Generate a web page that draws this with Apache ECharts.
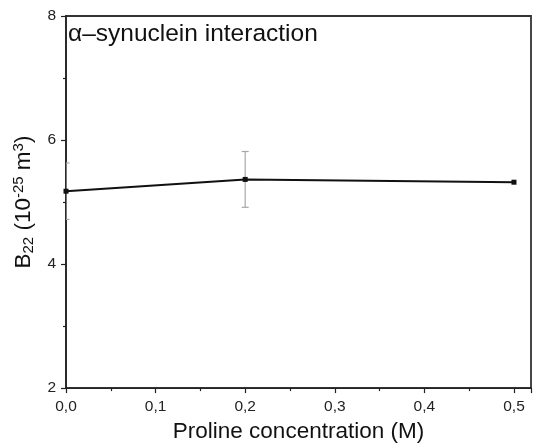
<!DOCTYPE html>
<html>
<head>
<meta charset="utf-8">
<script src="https://cdn.jsdelivr.net/npm/echarts@6/dist/echarts.min.js"></script>
<style>html,body{margin:0;padding:0;background:#fff}#c{width:534px;height:448px}</style>
</head>
<body>
<div id="c"></div>
<script>
var concentrations = [0, 0.2, 0.5];
var b22Values = [5.175, 5.365, 5.32];
var b22Errors = [0.455, 0.45, 0];
var annotationText = 'α–synuclein interaction';

var chart = echarts.init(document.getElementById('c'));
var lineData = concentrations.map(function (x, i) { return [x, b22Values[i]]; });
var errData = concentrations.map(function (x, i) { return [x, b22Values[i] - b22Errors[i], b22Values[i] + b22Errors[i]]; });
var font = 'Liberation Sans, Arial, sans-serif';

chart.setOption({
  animation: false,
  backgroundColor: '#fff',
  grid: { left: 66, right: 0, top: 16, bottom: 53.5, show: true, borderColor: '#333', borderWidth: 1.8, backgroundColor: 'transparent' },
  xAxis: {
    type: 'value', min: 0, max: 0.519, interval: 0.1,
    name: 'Proline concentration (M)', nameLocation: 'middle', nameGap: 28,
    nameTextStyle: { fontFamily: font, fontSize: 22.5, color: '#111' },
    axisLine: { lineStyle: { color: '#222', width: 1.5 } },
    axisTick: { show: true, inside: false, length: 5, lineStyle: { color: '#222', width: 1.2 } },
    minorTick: { show: true, splitNumber: 2, length: 3, lineStyle: { color: '#222', width: 1.2 } },
    axisLabel: { margin: 11, fontFamily: font, fontSize: 15.5, color: '#222',
      formatter: function (v) { var r = Math.round(v * 10); if (Math.abs(v * 10 - r) > 1e-6) return ''; return (r / 10).toFixed(1).replace('.', ','); } },
    splitLine: { show: false }
  },
  yAxis: {
    type: 'value', min: 2, max: 8, interval: 2,
    name: 'B{sub|22} (10{sup|-25} m{sup|3})', nameLocation: 'middle', nameGap: 25,
    nameTextStyle: { fontFamily: font, fontSize: 22.5, color: '#111',
      rich: {
        sub: { fontFamily: font, fontSize: 15, color: '#111', verticalAlign: 'bottom', padding: [10, 0, 0, 0] },
        sup: { fontFamily: font, fontSize: 15, color: '#111', verticalAlign: 'top', padding: [0, 0, 10, 0] }
      } },
    axisLine: { lineStyle: { color: '#222', width: 1.5 } },
    axisTick: { show: true, inside: false, length: 5, lineStyle: { color: '#222', width: 1.2 } },
    minorTick: { show: true, splitNumber: 2, length: 3, lineStyle: { color: '#222', width: 1.2 } },
    axisLabel: { margin: 10, fontFamily: font, fontSize: 15.5, color: '#222' },
    splitLine: { show: false }
  },
  graphic: [{
    type: 'text', left: 68, top: 22, z: 10,
    style: { text: annotationText, fontFamily: font, fontSize: 24.5, fill: '#111' }
  }],
  series: [
    {
      type: 'custom', data: errData, z: 1, clip: true,
      renderItem: function (params, api) {
        var x = api.value(0), lo = api.value(1), hi = api.value(2);
        if (hi - lo < 1e-9) return null;
        var pLo = api.coord([x, lo]), pHi = api.coord([x, hi]);
        var w = 3.5;
        var st = { stroke: '#a8a8a8', lineWidth: 1.2 };
        return { type: 'group', children: [
          { type: 'line', shape: { x1: pLo[0], y1: pLo[1], x2: pHi[0], y2: pHi[1] }, style: st },
          { type: 'line', shape: { x1: pLo[0] - w, y1: pLo[1], x2: pLo[0] + w, y2: pLo[1] }, style: st },
          { type: 'line', shape: { x1: pHi[0] - w, y1: pHi[1], x2: pHi[0] + w, y2: pHi[1] }, style: st }
        ] };
      }
    },
    {
      type: 'line', data: lineData, z: 3,
      symbol: 'rect', symbolSize: 5, showAllSymbol: true,
      lineStyle: { color: '#111', width: 2 },
      itemStyle: { color: '#111' }
    }
  ]
});
</script>
</body>
</html>
